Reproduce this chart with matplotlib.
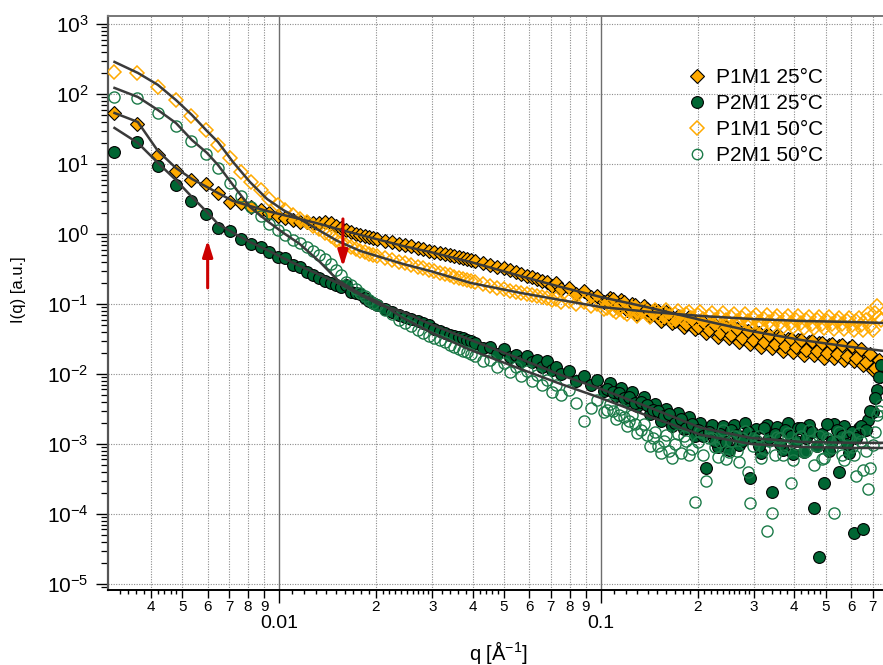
import matplotlib
matplotlib.use("Agg")
import matplotlib.pyplot as plt
from matplotlib.lines import Line2D
from matplotlib.ticker import FixedLocator, FixedFormatter, LogLocator, NullFormatter

plt.rcParams['font.family'] = ['Liberation Sans', 'DejaVu Sans']
plt.rcParams['mathtext.fontset'] = 'custom'
plt.rcParams['mathtext.rm'] = 'Liberation Sans'
plt.rcParams['mathtext.it'] = 'Liberation Sans:italic'

# ---------- data ----------
q = [0.00306, 0.00363, 0.00420, 0.00477, 0.00534, 0.00591, 0.00648, 0.00705, 0.00762, 0.00819,
     0.00876, 0.00933, 0.00990, 0.01047, 0.01104, 0.01161, 0.01218, 0.01275, 0.01332, 0.01389,
     0.01446, 0.01503, 0.01560, 0.01617, 0.01674, 0.01731, 0.01788, 0.01845, 0.01902, 0.01959,
     0.02016, 0.0213, 0.0224, 0.0236, 0.0247, 0.0258, 0.0270, 0.0281, 0.0293, 0.0304,
     0.0316, 0.0327, 0.0339, 0.0350, 0.0362, 0.0373, 0.0385, 0.0396, 0.0408, 0.0430,
     0.0453, 0.0476, 0.0499, 0.0522, 0.0545, 0.0567, 0.0590, 0.0613, 0.0636, 0.0659,
     0.0681, 0.0704, 0.0727, 0.0750, 0.0795, 0.0840, 0.0886, 0.0931, 0.0977, 0.1022,
     0.1068, 0.1113, 0.1159, 0.1204, 0.125, 0.130, 0.136, 0.142, 0.148, 0.154,
     0.160, 0.167, 0.174, 0.181, 0.188, 0.196, 0.204, 0.213, 0.222, 0.231,
     0.240, 0.250, 0.260, 0.270, 0.281, 0.292, 0.304, 0.316, 0.328, 0.341,
     0.354, 0.368, 0.382, 0.397, 0.412, 0.428, 0.444, 0.461, 0.478, 0.496,
     0.514, 0.533, 0.552, 0.572, 0.592, 0.613, 0.634, 0.656, 0.678, 0.700,
     0.722, 0.744]

i_p1m1_25 = [53.5, 37.3, 13.5, 7.94, 5.91, 5.18, 3.85, 2.87, 2.77, 2.43,
             2.20, 2.00, 1.81, 1.70, 1.59, 1.49, 1.49, 1.44, 1.44, 1.49,
             1.44, 1.30, 1.22, 1.14, 1.07, 1.00, 0.968, 0.936, 0.906, 0.877,
             0.848, 0.794, 0.769, 0.720, 0.696, 0.674, 0.631, 0.611, 0.572, 0.553,
             0.535, 0.518, 0.501, 0.484, 0.469, 0.454, 0.439, 0.425, 0.411, 0.385,
             0.361, 0.338, 0.327, 0.306, 0.287, 0.268, 0.251, 0.243, 0.228, 0.213,
             0.206, 0.181, 0.200, 0.164, 0.170, 0.139, 0.154, 0.126, 0.130, 0.107,
             0.122, 0.0936, 0.114, 0.0821, 0.100, 0.0720, 0.0936, 0.0674, 0.0821, 0.0572,
             0.0769, 0.0535, 0.0674, 0.0469, 0.0652, 0.0439, 0.0572, 0.0385, 0.0535, 0.0338,
             0.0484, 0.0327, 0.0454, 0.0287, 0.0411, 0.0268, 0.0398, 0.0243, 0.0361, 0.0235,
             0.0349, 0.0213, 0.0316, 0.0206, 0.0306, 0.0187, 0.0287, 0.0187, 0.0277, 0.0170,
             0.0260, 0.0170, 0.0251, 0.0159, 0.0235, 0.0154, 0.0213, 0.0135, 0.0175, 0.0114,
             0.0130, 0.00936]

i_p2m1_25 = [14.9, 20.6, 9.36, 5.01, 2.96, 1.93, 1.22, 1.11, 0.848, 0.720,
             0.652, 0.553, 0.469, 0.454, 0.361, 0.338, 0.287, 0.260, 0.235, 0.213,
             0.200, 0.187, 0.175, 0.187, 0.149, 0.144, 0.139, 0.122, 0.111, 0.104,
             0.0968, 0.0848, 0.0769, 0.0696, 0.0652, 0.0611, 0.0572, 0.0535, 0.0501, 0.0439,
             0.0411, 0.0385, 0.0361, 0.0349, 0.0338, 0.0327, 0.0306, 0.0296, 0.0277, 0.0235,
             0.0243, 0.0193, 0.0228, 0.0175, 0.0187, 0.0154, 0.0181, 0.0149, 0.0159, 0.0126,
             0.0154, 0.0114, 0.0126, 0.0100, 0.0111, 0.00794, 0.00936, 0.00696, 0.00821, 0.00572,
             0.00744, 0.00484, 0.00631, 0.00411, 0.00553, 0.00349, 0.00469, 0.00268, 0.00373, 0.00213,
             0.00316, 0.00181, 0.00277, 0.00164, 0.00243, 0.00130, 0.00200, 0.000454, 0.00187, 0.000906,
             0.00181, 0.000821, 0.00187, 0.000968, 0.00200, 0.000327, 0.00164, 0.000744, 0.00187, 0.000206,
             0.00175, 0.000821, 0.00200, 0.000720, 0.00170, 0.000769, 0.00187, 0.000122, 0.0000243, 0.000277,
             0.000794, 0.00193, 0.000398, 0.00181, 0.000744, 0.0000535, 0.00170, 0.0000611, 0.00220, 0.00287,
             0.00591, 0.0135]

i_p1m1_50 = [206, 200, 126, 82.1, 48.4, 30.6, 18.7, 12.2, 7.69, 5.53,
             4.25, 3.16, 2.60, 2.20, 1.87, 1.64, 1.49, 1.30, 1.18, 1.04,
             0.936, 0.821, 0.744, 0.696, 0.652, 0.611, 0.572, 0.553, 0.518, 0.501,
             0.484, 0.454, 0.425, 0.398, 0.385, 0.361, 0.338, 0.327, 0.306, 0.296,
             0.277, 0.268, 0.260, 0.243, 0.235, 0.228, 0.220, 0.213, 0.206, 0.193,
             0.181, 0.170, 0.164, 0.154, 0.149, 0.144, 0.139, 0.135, 0.130, 0.126,
             0.122, 0.114, 0.118, 0.107, 0.111, 0.100, 0.107, 0.0936, 0.100, 0.0848,
             0.0968, 0.0769, 0.0906, 0.0720, 0.0877, 0.0674, 0.0848, 0.0652, 0.0821, 0.0631,
             0.0821, 0.0611, 0.0794, 0.0591, 0.0769, 0.0572, 0.0769, 0.0553, 0.0744, 0.0535,
             0.0744, 0.0518, 0.0720, 0.0501, 0.0720, 0.0501, 0.0696, 0.0484, 0.0696, 0.0484,
             0.0674, 0.0469, 0.0674, 0.0469, 0.0674, 0.0454, 0.0652, 0.0454, 0.0652, 0.0454,
             0.0652, 0.0439, 0.0631, 0.0439, 0.0631, 0.0425, 0.0631, 0.0425, 0.0720, 0.0425,
             0.0936, 0.0591]

i_p2m1_50 = [90.6, 87.7, 53.5, 34.9, 21.3, 13.9, 8.77, 5.35, 3.49, 2.43,
             1.81, 1.39, 1.14, 0.968, 0.821, 0.744, 0.652, 0.572, 0.501, 0.439,
             0.373, 0.306, 0.260, 0.206, 0.187, 0.164, 0.144, 0.130, 0.114, 0.104,
             0.0968, 0.0821, 0.0720, 0.0591, 0.0535, 0.0484, 0.0425, 0.0385, 0.0349, 0.0327,
             0.0306, 0.0287, 0.0260, 0.0243, 0.0228, 0.0213, 0.0206, 0.0193, 0.0181, 0.0154,
             0.0159, 0.0126, 0.0144, 0.0107, 0.0126, 0.00936, 0.0111, 0.00794, 0.00968, 0.00696,
             0.00821, 0.00553, 0.00696, 0.00501, 0.00591, 0.00385, 0.00213, 0.00327, 0.00425, 0.00287,
             0.00373, 0.00228, 0.00316, 0.00181, 0.00260, 0.00144, 0.00193, 0.000936, 0.00149, 0.000744,
             0.00135, 0.000631, 0.00139, 0.00130, 0.000696, 0.000149, 0.00149, 0.000296, 0.00122, 0.000652,
             0.00159, 0.000769, 0.00130, 0.000553, 0.00154, 0.000144, 0.00114, 0.000631, 0.0000572, 0.000104,
             0.00126, 0.000696, 0.00144, 0.000591, 0.00122, 0.000769, 0.00159, 0.000501, 0.00130, 0.000631,
             0.00114, 0.000104, 0.00149, 0.000591, 0.00126, 0.000696, 0.00144, 0.000425, 0.000228, 0.000968,
             0.00260, 0.00361]

# extra points in between, high-q part (dense band)
q_hi = [0.1045, 0.1090, 0.1136, 0.1181, 0.1227, 0.1275, 0.133, 0.139, 0.145, 0.151,
        0.157, 0.1635, 0.1705, 0.1775, 0.1845, 0.192, 0.200, 0.2085, 0.2175, 0.2265,
        0.2355, 0.245, 0.255, 0.265, 0.2755, 0.2865, 0.298, 0.310, 0.322, 0.3345,
        0.3475, 0.361, 0.375, 0.3895, 0.4045, 0.420, 0.436, 0.4525, 0.4695, 0.487,
        0.505, 0.5235, 0.5425, 0.562, 0.582, 0.6025, 0.6235, 0.645, 0.667, 0.689,
        0.711, 0.733]
i_p1m1_25_hi = [0.109, 0.118, 0.098, 0.108, 0.089, 0.097, 0.080, 0.086, 0.071, 0.079,
                0.064, 0.072, 0.058, 0.066, 0.052, 0.060, 0.047, 0.055, 0.043, 0.050,
                0.039, 0.047, 0.036, 0.044, 0.033, 0.041, 0.031, 0.039, 0.029, 0.036,
                0.027, 0.034, 0.025, 0.032, 0.024, 0.031, 0.022, 0.030, 0.021, 0.028,
                0.020, 0.027, 0.019, 0.026, 0.018, 0.025, 0.017, 0.023, 0.015, 0.019,
                0.012, 0.016]
i_p2m1_25_hi = [0.0062, 0.0055, 0.0053, 0.0046, 0.0047, 0.0039, 0.0040, 0.0036, 0.0031, 0.0030,
                0.0025, 0.0027, 0.0020, 0.0023, 0.0017, 0.0019, 0.0016, 0.0013, 0.0015, 0.0011,
                0.0014, 0.00105, 0.0016, 0.00135, 0.0011, 0.0015, 0.00125, 0.00095, 0.0017, 0.0012,
                0.0014, 0.0010, 0.0016, 0.0013, 0.0011, 0.0017, 0.0012, 0.0015, 0.00095, 0.0014,
                0.0019, 0.0011, 0.0016, 0.0013, 0.0010, 0.0015, 0.0012, 0.0018, 0.0016, 0.0030,
                0.0045, 0.0090]
i_p1m1_50_hi = [0.089, 0.081, 0.086, 0.078, 0.083, 0.075, 0.080, 0.072, 0.077, 0.070,
                0.075, 0.068, 0.073, 0.066, 0.071, 0.064, 0.069, 0.062, 0.068, 0.060,
                0.066, 0.059, 0.065, 0.058, 0.064, 0.057, 0.063, 0.056, 0.062, 0.055,
                0.062, 0.054, 0.061, 0.054, 0.060, 0.053, 0.060, 0.052, 0.059, 0.052,
                0.058, 0.051, 0.058, 0.051, 0.057, 0.050, 0.057, 0.050, 0.060, 0.048,
                0.075, 0.065]
i_p2m1_50_hi = [0.0031, 0.0030, 0.0026, 0.0024, 0.0021, 0.0019, 0.0016, 0.00135, 0.0012, 0.00095,
                0.0011, 0.00080, 0.0010, 0.00075, 0.0011, 0.00085, 0.00105, 0.00070, 0.0012, 0.00090,
                0.00105, 0.00060, 0.0011, 0.00080, 0.0012, 0.00040, 0.00095, 0.0013, 0.00085, 0.0011,
                0.00070, 0.0012, 0.00090, 0.00028, 0.0010, 0.0013, 0.00080, 0.0011, 0.00095, 0.00060,
                0.0012, 0.00088, 0.0011, 0.00070, 0.0013, 0.00090, 0.00035, 0.0011, 0.0008, 0.00045,
                0.0015, 0.0030]

# fitted curves
q_fit = [0.00308, 0.00364, 0.00420, 0.00478, 0.00536, 0.00597, 0.00646, 0.00719, 0.00812, 0.00918,
         0.0103, 0.0116, 0.0134, 0.0152, 0.0179, 0.0206, 0.0243, 0.0295, 0.0394, 0.0563,
         0.0751, 0.100, 0.143, 0.205, 0.293, 0.420, 0.601, 0.76]
fit_p1m1_25 = [53.5, 39.8, 15.4, 8.77, 6.11, 4.69, 3.85, 2.96, 2.51, 2.13,
               1.87, 1.64, 1.39, 1.18, 0.968, 0.821, 0.674, 0.553, 0.398, 0.251,
               0.175, 0.126, 0.0877, 0.0591, 0.0411, 0.0306, 0.0243, 0.0213]
fit_p2m1_25 = [32.7, 20.0, 10.4, 5.91, 3.38, 2.06, 1.39, 1.04, 0.769, 0.591,
               0.454, 0.349, 0.260, 0.200, 0.135, 0.0968, 0.0769, 0.0518, 0.0306, 0.0164,
               0.00968, 0.00611, 0.00327, 0.00170, 0.00122, 0.00107, 0.00104, 0.00104]
fit_p1m1_50 = [287, 200, 135, 82.1, 50.1, 29.6, 20.6, 10.7, 5.53, 3.16,
               2.20, 1.64, 1.11, 0.794, 0.572, 0.469, 0.373, 0.296, 0.200, 0.144,
               0.114, 0.0906, 0.0769, 0.0674, 0.0611, 0.0572, 0.0553, 0.0535]
fit_p2m1_50 = [122, 90.6, 59.1, 38.5, 22.0, 14.4, 9.68, 5.01, 2.43, 1.54,
               1.04, 0.720, 0.398, 0.220, 0.139, 0.104, 0.0631, 0.0398, 0.0220, 0.0118,
               0.00720, 0.00454, 0.00243, 0.00135, 0.00100, 0.000906, 0.000877, 0.000877]

labels = ["P1M1 25°C", "P2M1 25°C", "P1M1 50°C", "P2M1 50°C"]

# arrows: (q, tail I, head I)
arrows = [(0.0060, 0.170, 0.82), (0.0158, 1.64, 0.338)]

# axis ticks
x_major = [0.01, 0.1]
x_major_lbl = ["0.01", "0.1"]
x_minor = [0.004, 0.005, 0.006, 0.007, 0.008, 0.009,
           0.02, 0.03, 0.04, 0.05, 0.06, 0.07, 0.08, 0.09,
           0.2, 0.3, 0.4, 0.5, 0.6, 0.7]
x_minor_lbl = ["4", "5", "6", "7", "8", "9",
               "2", "3", "4", "5", "6", "7", "8", "9",
               "2", "3", "4", "5", "6", "7"]
x_sub = [0.0032, 0.0034, 0.0036, 0.0038, 0.0042, 0.0044, 0.0046, 0.0048,
         0.011, 0.012, 0.013, 0.014, 0.015, 0.016, 0.017, 0.018, 0.019,
         0.021, 0.022, 0.023, 0.024, 0.025, 0.026, 0.027, 0.028, 0.029,
         0.032, 0.034, 0.036, 0.038, 0.042, 0.044, 0.046, 0.048,
         0.11, 0.12, 0.13, 0.14, 0.15, 0.16, 0.17, 0.18, 0.19,
         0.21, 0.22, 0.23, 0.24, 0.25, 0.26, 0.27, 0.28, 0.29,
         0.32, 0.34, 0.36, 0.38, 0.42, 0.44, 0.46, 0.48]
y_major = [1e-5, 1e-4, 1e-3, 1e-2, 1e-1, 1e0, 1e1, 1e2, 1e3]
y_major_lbl = [r"$10^{-5}$", r"$10^{-4}$", r"$10^{-3}$", r"$10^{-2}$", r"$10^{-1}$",
               r"$10^{0}$", r"$10^{1}$", r"$10^{2}$", r"$10^{3}$"]

# ---------- figure ----------
ORANGE = "#FFAA00"
DKGREEN = "#006633"
OPGREEN = "#1B7A48"
LINE = "#3a3a3a"

fig = plt.figure(figsize=(8.83, 6.65), dpi=100)
ax = fig.add_axes([108 / 883, 75 / 665, 775 / 883, 574 / 665])
ax.set_xscale("log")
ax.set_yscale("log")
ax.set_xlim(0.00294, 0.7544)
ax.set_ylim(8.2e-6, 1300)

# grid
for v in x_minor:
    ax.axvline(v, color="#8c8c8c", lw=0.8, ls=(0, (1, 1.3)), zorder=0)
for v in x_major:
    ax.axvline(v, color="#6e6e6e", lw=1.0, zorder=0)
for v in y_major:
    ax.axhline(v, color="#8c8c8c", lw=0.8, ls=(0, (1, 1.3)), zorder=0)

# data
ax.plot(q + q_hi, i_p1m1_25 + i_p1m1_25_hi, ls="none", marker="D", ms=7.5,
        mfc=ORANGE, mec="black", mew=0.8, zorder=3)
ax.plot(q + q_hi, i_p2m1_25 + i_p2m1_25_hi, ls="none", marker="o", ms=8.5,
        mfc=DKGREEN, mec="black", mew=0.8, zorder=3)
ax.plot(q + q_hi, i_p1m1_50 + i_p1m1_50_hi, ls="none", marker="D", ms=7.5,
        mfc="none", mec=ORANGE, mew=1.1, zorder=3)
ax.plot(q + q_hi, i_p2m1_50 + i_p2m1_50_hi, ls="none", marker="o", ms=8.0,
        mfc="none", mec=OPGREEN, mew=1.0, zorder=3)

# fits
for f in (fit_p1m1_25, fit_p2m1_25, fit_p1m1_50, fit_p2m1_50):
    ax.plot(q_fit, f, color=LINE, lw=1.8, zorder=4)

# red arrows
for xq, y0, y1 in arrows:
    ax.annotate("", xy=(xq, y1), xytext=(xq, y0),
                arrowprops=dict(arrowstyle="-|>,head_width=0.25,head_length=0.8",
                                color="#cc0000", lw=2.2, mutation_scale=12,
                                shrinkA=0, shrinkB=0), zorder=5)

# ticks
ax.xaxis.set_major_locator(FixedLocator(x_major))
ax.xaxis.set_major_formatter(FixedFormatter(x_major_lbl))
ax.xaxis.set_minor_locator(FixedLocator(x_minor))
ax.xaxis.set_minor_formatter(FixedFormatter(x_minor_lbl))
ax.yaxis.set_major_locator(FixedLocator(y_major))
ax.yaxis.set_major_formatter(FixedFormatter(y_major_lbl))
ax.yaxis.set_minor_locator(LogLocator(base=10, subs=[2, 3, 4, 5, 6, 7, 8, 9], numticks=20))
ax.yaxis.set_minor_formatter(NullFormatter())

ax.tick_params(axis="x", which="major", direction="out", length=9.5, width=1.0,
               pad=8.5, labelsize=14, colors="black")
ax.tick_params(axis="x", which="minor", direction="out", length=5.5, width=1.0,
               pad=1.5, labelsize=11)
ax.tick_params(axis="y", which="major", direction="out", length=9, width=1.0,
               pad=5, labelsize=15)
ax.tick_params(axis="y", which="minor", direction="out", length=5, width=0.9)

# sub-minor x ticks, Igor-like
ax.plot(x_sub, [0] * len(x_sub), transform=ax.get_xaxis_transform(), ls="none",
        marker=3, ms=3, mew=1.0, color="black", clip_on=False, zorder=6)

ax.spines["right"].set_visible(False)
ax.spines["left"].set_color("#555555")
ax.spines["left"].set_linewidth(1.6)
ax.spines["top"].set_color("#777777")
ax.spines["top"].set_linewidth(1.4)
ax.spines["bottom"].set_color("black")
ax.spines["bottom"].set_linewidth(1.4)

# axis labels
fig.text(19 / 883, 1 - 290 / 665, "I(q) [a.u.]", rotation=90, ha="center", va="center", fontsize=12)
fig.text(498 / 883, 1 - 652 / 665, r"q [Å$^{\mathregular{-1}}$]", ha="center", va="center", fontsize=14.5)

# legend
handles = [
    Line2D([], [], ls="none", marker="D", ms=7.5, mfc=ORANGE, mec="black", mew=0.8),
    Line2D([], [], ls="none", marker="o", ms=8.5, mfc=DKGREEN, mec="black", mew=0.8),
    Line2D([], [], ls="none", marker="D", ms=7.0, mfc="none", mec=ORANGE, mew=1.1),
    Line2D([], [], ls="none", marker="o", ms=7.5, mfc="none", mec=OPGREEN, mew=1.0),
]
ax.legend(handles, labels, loc="upper left", bbox_to_anchor=(0.747, 0.909),
          frameon=False, fontsize=15, handlelength=1.0, handletextpad=0.4,
          labelspacing=0.33, borderpad=0, borderaxespad=0)

fig.savefig("out.png", dpi=100)
